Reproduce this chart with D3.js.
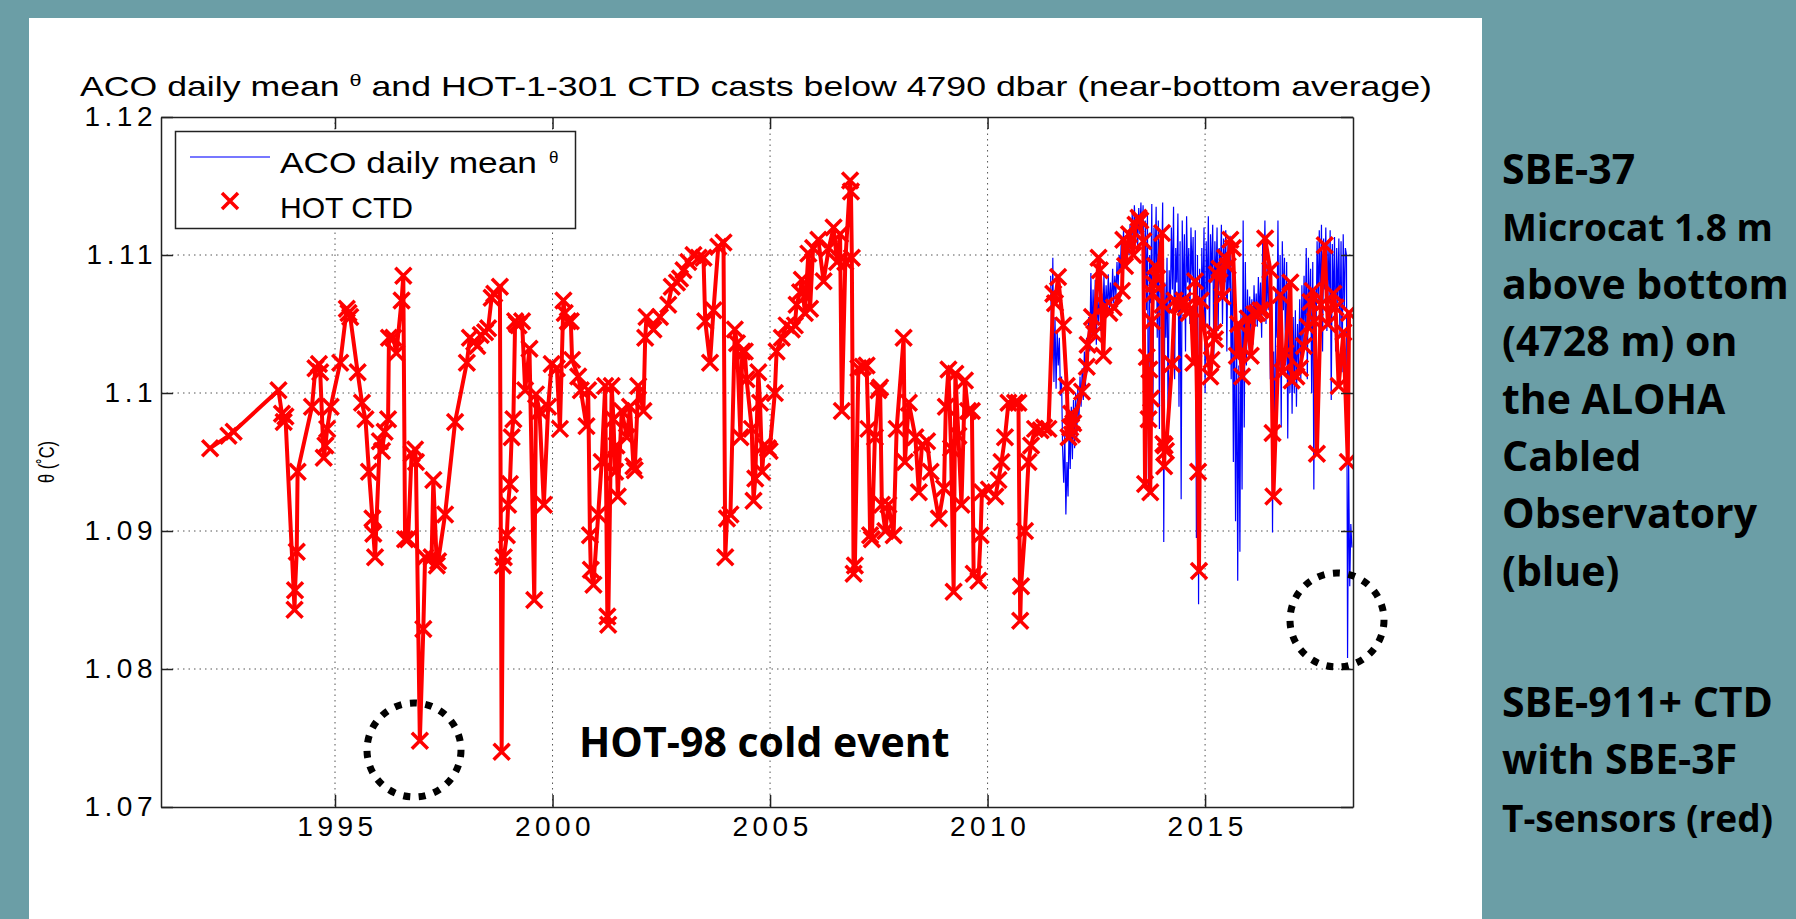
<!DOCTYPE html>
<html>

<head>
  <meta charset="utf-8">
  <title>ACO daily mean theta and HOT CTD casts</title>

  <style>
    body {
      margin: 0;
      background: #6b9ea6;
      overflow: hidden;
    }

    svg {
      display: block;
    }

    .grid line {
      stroke: #555;
      stroke-width: 1;
      stroke-dasharray: 1.5 4;
    }

    .axis path,
    .axis line {
      stroke: #222;
      stroke-width: 1.5;
    }

    .axis text {
      font-family: "Liberation Sans", sans-serif;
      font-size: 28px;
      letter-spacing: 4.5px;
      fill: #000;
    }

    .plot-text {
      font-family: "Liberation Sans", sans-serif;
      fill: #000;
    }

    .note {
      font-family: "Open Sans", sans-serif;
      font-weight: bold;
      fill: #000;
    }
  </style>
</head>

<body>
  <svg width="1796" height="919"></svg>

  <script src="https://cdn.jsdelivr.net/npm/d3@7"></script>

  <script>
    // HOT CTD casts: [decimal year, near-bottom theta]
    var hotCtd = [
      [1992.13, 1.0960], [1992.55, 1.0969], [1992.67, 1.0972], [1993.70, 1.1002], [1993.78, 1.0985],
      [1993.82, 1.0979], [1993.86, 1.0983], [1994.07, 1.0843], [1994.08, 1.0857], [1994.12, 1.0885],
      [1994.14, 1.0943], [1994.47, 1.0990], [1994.55, 1.1018], [1994.63, 1.1021], [1994.66, 1.1015],
      [1994.74, 1.0953], [1994.78, 1.0962], [1994.82, 1.0974], [1994.90, 1.0990], [1995.12, 1.1022],
      [1995.27, 1.1061], [1995.31, 1.1058], [1995.35, 1.1055], [1995.52, 1.1015], [1995.62, 1.0993],
      [1995.70, 1.0981], [1995.78, 1.0943], [1995.86, 1.0909], [1995.88, 1.0898], [1995.92, 1.0881],
      [1996.03, 1.0965], [1996.08, 1.0958], [1996.14, 1.0972], [1996.22, 1.0981], [1996.24, 1.1040],
      [1996.34, 1.1040], [1996.41, 1.1029], [1996.53, 1.1067], [1996.57, 1.1085], [1996.61, 1.0894],
      [1996.68, 1.0894], [1996.76, 1.0956], [1996.84, 1.0959], [1996.86, 1.0950], [1996.95, 1.0748],
      [1997.03, 1.0829], [1997.07, 1.0881], [1997.22, 1.0881], [1997.26, 1.0937], [1997.34, 1.0875],
      [1997.37, 1.0878], [1997.53, 1.0912], [1997.76, 1.0979], [1998.03, 1.1022], [1998.10, 1.1040],
      [1998.20, 1.1037], [1998.27, 1.1034], [1998.35, 1.1042], [1998.45, 1.1044], [1998.52, 1.1047],
      [1998.60, 1.1069], [1998.66, 1.1072], [1998.79, 1.1077], [1998.83, 1.0740], [1998.86, 1.0875],
      [1998.88, 1.0881], [1998.95, 1.0897], [1998.98, 1.0919], [1999.02, 1.0934], [1999.06, 1.0968],
      [1999.10, 1.0981], [1999.14, 1.1052], [1999.18, 1.1050], [1999.22, 1.1049], [1999.30, 1.1052],
      [1999.37, 1.1002], [1999.47, 1.1032], [1999.58, 1.0850], [1999.62, 1.0999], [1999.70, 1.0987],
      [1999.80, 1.0919], [1999.90, 1.0990], [1999.98, 1.1021], [2000.10, 1.1018], [2000.17, 1.0974],
      [2000.25, 1.1067], [2000.28, 1.1058], [2000.35, 1.1052], [2000.42, 1.1052], [2000.45, 1.1024],
      [2000.59, 1.1012], [2000.65, 1.1002], [2000.78, 1.0976], [2000.82, 1.1002], [2000.86, 1.0897],
      [2000.88, 1.0872], [2000.94, 1.0861], [2001.05, 1.0912], [2001.13, 1.0950], [2001.21, 1.1005],
      [2001.26, 1.0838], [2001.28, 1.0832], [2001.36, 1.1005], [2001.40, 1.0981], [2001.44, 1.0943],
      [2001.47, 1.0962], [2001.50, 1.0925], [2001.59, 1.0987], [2001.71, 1.0968], [2001.78, 1.0990],
      [2001.86, 1.0947], [2001.89, 1.0944], [2001.97, 1.1005], [2002.09, 1.0987], [2002.13, 1.1040],
      [2002.16, 1.1055], [2002.32, 1.1046], [2002.47, 1.1055], [2002.66, 1.1064], [2002.74, 1.1077],
      [2002.86, 1.1080], [2002.93, 1.1083], [2003.01, 1.1089], [2003.12, 1.1095], [2003.24, 1.1100],
      [2003.36, 1.1098], [2003.47, 1.1098], [2003.51, 1.1052], [2003.62, 1.1022], [2003.70, 1.1060],
      [2003.81, 1.1106], [2003.93, 1.1109], [2003.97, 1.0881], [2004.01, 1.0909], [2004.09, 1.0912],
      [2004.19, 1.1046], [2004.24, 1.1036], [2004.32, 1.0968], [2004.36, 1.1030], [2004.42, 1.1030],
      [2004.46, 1.1010], [2004.58, 1.0974], [2004.62, 1.0922], [2004.66, 1.0938], [2004.73, 1.1015],
      [2004.77, 1.0993], [2004.82, 1.0943], [2004.86, 1.0962], [2004.95, 1.0960], [2004.99, 1.0958],
      [2005.11, 1.1000], [2005.15, 1.1030], [2005.27, 1.1040], [2005.38, 1.1049], [2005.50, 1.1046],
      [2005.57, 1.1049], [2005.61, 1.1064], [2005.69, 1.1073], [2005.73, 1.1082], [2005.80, 1.1058],
      [2005.88, 1.1101], [2005.92, 1.1061], [2005.99, 1.1105], [2006.11, 1.1111], [2006.23, 1.1081],
      [2006.35, 1.1105], [2006.46, 1.1120], [2006.54, 1.1095], [2006.61, 1.1115], [2006.65, 1.0987],
      [2006.73, 1.1095], [2006.84, 1.1154], [2006.86, 1.1146], [2006.88, 1.1098], [2006.92, 1.0869],
      [2006.95, 1.0875], [2007.03, 1.1018], [2007.13, 1.1019], [2007.22, 1.1020], [2007.26, 1.0974],
      [2007.30, 1.0897], [2007.34, 1.0894], [2007.41, 1.0968], [2007.49, 1.1002], [2007.53, 1.1004],
      [2007.57, 1.0919], [2007.65, 1.0900], [2007.72, 1.0919], [2007.84, 1.0897], [2007.91, 1.0974],
      [2008.07, 1.1040], [2008.10, 1.0950], [2008.19, 1.0993], [2008.34, 1.0968], [2008.42, 1.0928],
      [2008.49, 1.0962], [2008.61, 1.0965], [2008.69, 1.0943], [2008.88, 1.0909], [2009.00, 1.0931],
      [2009.04, 1.0990], [2009.10, 1.1017], [2009.16, 1.0960], [2009.22, 1.0856], [2009.26, 1.1014],
      [2009.33, 1.0969], [2009.40, 1.0919], [2009.48, 1.1009], [2009.55, 1.0987], [2009.64, 1.0987],
      [2009.68, 1.0869], [2009.79, 1.0864], [2009.84, 1.0897], [2009.87, 1.0928], [2010.03, 1.0930],
      [2010.18, 1.0925], [2010.25, 1.0937], [2010.32, 1.0950], [2010.40, 1.0968], [2010.48, 1.0993],
      [2010.63, 1.0993], [2010.71, 1.0993], [2010.75, 1.0835], [2010.77, 1.0860], [2010.86, 1.0900],
      [2010.94, 1.0950], [2011.00, 1.0962], [2011.09, 1.0974], [2011.22, 1.0973], [2011.30, 1.0975],
      [2011.40, 1.0974], [2011.51, 1.1072], [2011.55, 1.1065], [2011.62, 1.1084], [2011.74, 1.1049],
      [2011.82, 1.1005], [2011.86, 1.0968], [2011.90, 1.0975], [2011.92, 1.0985], [2011.94, 1.0970],
      [2011.97, 1.0978], [2012.17, 1.1001], [2012.28, 1.1019], [2012.30, 1.1035], [2012.40, 1.1055],
      [2012.45, 1.1043], [2012.55, 1.1098], [2012.58, 1.1089], [2012.66, 1.1027], [2012.70, 1.1063],
      [2012.80, 1.1058], [2012.90, 1.1062], [2013.09, 1.1074], [2013.12, 1.1111], [2013.16, 1.1092],
      [2013.25, 1.1115], [2013.35, 1.1100], [2013.40, 1.1122], [2013.47, 1.1127], [2013.51, 1.1125],
      [2013.58, 1.1110], [2013.62, 1.0934], [2013.66, 1.1026], [2013.70, 1.0981], [2013.72, 1.1017],
      [2013.74, 1.0928], [2013.76, 1.0996], [2013.78, 1.1052], [2013.80, 1.1072], [2013.82, 1.1079],
      [2013.85, 1.1092], [2013.90, 1.1083], [2014.01, 1.1116], [2014.02, 1.1064], [2014.04, 1.0963],
      [2014.06, 1.0947], [2014.07, 1.0962], [2014.10, 1.0958], [2014.24, 1.1021], [2014.30, 1.1067],
      [2014.38, 1.1064], [2014.45, 1.1063], [2014.50, 1.1067], [2014.55, 1.1062], [2014.62, 1.1058],
      [2014.68, 1.1061], [2014.73, 1.1022], [2014.77, 1.1081], [2014.84, 1.0943], [2014.86, 1.0871],
      [2014.90, 1.1067], [2015.12, 1.1012], [2015.15, 1.1024], [2015.20, 1.1044], [2015.23, 1.1039],
      [2015.27, 1.1086], [2015.33, 1.1090], [2015.40, 1.1070], [2015.46, 1.1098], [2015.52, 1.1092],
      [2015.58, 1.1111], [2015.64, 1.1105], [2015.73, 1.1027], [2015.76, 1.1050], [2015.85, 1.1012],
      [2015.98, 1.1054], [2016.05, 1.1027], [2016.13, 1.1057], [2016.20, 1.1058], [2016.27, 1.1060],
      [2016.34, 1.1060], [2016.38, 1.1112], [2016.50, 1.1089], [2016.55, 1.0971], [2016.57, 1.0925],
      [2016.73, 1.1071], [2016.78, 1.1015], [2016.85, 1.1029], [2016.96, 1.1080], [2016.99, 1.1009],
      [2017.10, 1.1012], [2017.18, 1.1018], [2017.27, 1.1034], [2017.36, 1.1048], [2017.42, 1.1066],
      [2017.47, 1.1074], [2017.52, 1.1052], [2017.57, 1.0956], [2017.66, 1.1064], [2017.75, 1.1107],
      [2017.82, 1.1050], [2017.95, 1.1072], [2018.00, 1.1062], [2018.07, 1.1005], [2018.18, 1.1044],
      [2018.28, 1.0950], [2018.31, 1.1058]
    ];

    // ACO daily mean theta, sampled every acoStep years from acoStart
    var acoStart = 2011.45;
    var acoStep = 0.025;
    var acoTheta = [
      1.1085, 1.1030, 1.1098, 1.1008, 1.1055, 1.1003, 1.1045, 1.1020,
      1.1040, 1.0998, 1.1012, 1.0960, 1.0935, 1.0970, 1.0912, 1.0950,
      1.0925, 1.0980, 1.0945, 1.0990, 1.0952, 1.0995, 1.0960, 1.1000,
      1.0968, 1.1005, 1.0980, 1.1012, 1.0990, 1.1018, 1.0995, 1.1030,
      1.1005, 1.1040, 1.1015, 1.1055, 1.1030, 1.1087, 1.1040, 1.1075,
      1.1045, 1.1082, 1.1035, 1.1070, 1.1050, 1.1080, 1.1045, 1.1072,
      1.1052, 1.1085, 1.1055, 1.1078, 1.1058, 1.1086, 1.1060, 1.1080,
      1.1062, 1.1090, 1.1065, 1.1085, 1.1070, 1.1095, 1.1075, 1.1100,
      1.1088, 1.1112, 1.1092, 1.1118, 1.1095, 1.1110, 1.1090, 1.1115,
      1.1100, 1.1122, 1.1105, 1.1130, 1.1108, 1.1136, 1.1112, 1.1128,
      1.1105, 1.1134, 1.1115, 1.1138, 1.1110, 1.1136, 1.1060, 1.1125,
      1.1060, 1.1130, 1.0925, 1.1100, 1.1065, 1.1137, 1.0980, 1.1120,
      1.1090, 1.1135, 1.1040, 1.1125, 1.0974, 1.1110, 1.1085, 1.1138,
      1.0892, 1.1080, 1.1040, 1.1098, 1.0975, 1.1089, 1.1060, 1.1120,
      1.1075, 1.1135, 1.1010, 1.1105, 1.1080, 1.1130, 1.0990, 1.1110,
      1.0923, 1.1125, 1.1060, 1.1115, 1.1030, 1.1128, 1.1080, 1.1105,
      1.1050, 1.1120, 1.1085, 1.1113, 1.1020, 1.1118, 1.0895, 1.1100,
      1.0847, 1.1090, 1.0990, 1.1105, 1.1060, 1.1120, 1.1000, 1.1110,
      1.1070, 1.1128, 1.1040, 1.1115, 1.1080, 1.1122, 1.1025, 1.1110,
      1.1075, 1.1120, 1.1045, 1.1105, 1.1085, 1.1122, 1.1050, 1.1112,
      1.1080, 1.1118, 1.1030, 1.1108, 1.1075, 1.1114, 1.1010, 1.1095,
      1.0950, 1.1070, 1.0907, 1.1040, 1.0864, 1.1020, 1.0885, 1.1060,
      1.0930, 1.1125, 1.0975, 1.1095, 1.1020, 1.1075, 1.1040, 1.1070,
      1.1045, 1.1068, 1.1035, 1.1078, 1.1050, 1.1072, 1.1048, 1.1084,
      1.1055, 1.1080, 1.1040, 1.1112, 1.1070, 1.1125, 1.1050, 1.1095,
      1.1060, 1.1085, 1.1010, 1.1065, 1.0899, 1.1030, 1.0960, 1.1075,
      1.1040, 1.1125, 1.1020, 1.1100, 1.0975, 1.1110, 1.1060, 1.1098,
      1.1020, 1.1095, 1.0967, 1.1060, 1.1000, 1.1062, 1.0985, 1.1055,
      1.1000, 1.1060, 1.0990, 1.1050, 1.1020, 1.1068, 1.1010, 1.1078,
      1.1030, 1.1085, 1.1040, 1.1105, 1.1010, 1.1098, 1.1050, 1.1090,
      1.1000, 1.1095, 1.0930, 1.1075, 1.1040, 1.1110, 1.1065, 1.1118,
      1.1060, 1.1122, 1.1030, 1.1112, 1.1075, 1.1120, 1.1045, 1.1110,
      1.1070, 1.1118, 1.0995, 1.1108, 1.1060, 1.1113, 1.1030, 1.1105,
      1.1065, 1.1112, 1.1040, 1.1110, 1.1015, 1.1115, 1.1060, 1.1105,
      1.1100, 1.0808, 1.0950, 1.0860, 1.0905, 1.0888
    ];

    // axis ticks
    var xTicks = [1995, 2000, 2005, 2010, 2015];
    var yTicks = [1.07, 1.08, 1.09, 1.1, 1.11, 1.12];
    var yTickLabels = ['1.07', '1.08', '1.09', '1.1', '1.11', '1.12'];

    // slide text to the right of the chart
    var sideLinesTop = ['SBE-37', 'Microcat 1.8 m', 'above bottom', '(4728 m) on', 'the ALOHA', 'Cabled', 'Observatory', '(blue)'];
    var sideLinesBottom = ['SBE-911+ CTD', 'with SBE-3F', 'T-sensors (red)'];

    var svg = d3.select('svg');

    // slide background and white chart panel
    svg.append('rect')
      .attr('width', 1796).attr('height', 919)
      .attr('fill', '#6b9ea6');
    svg.append('rect')
      .attr('x', 29).attr('y', 18)
      .attr('width', 1453).attr('height', 901)
      .attr('fill', '#ffffff');

    var x = d3.scaleLinear().domain([1991, 2018.4]).range([161, 1353]);
    var y = d3.scaleLinear().domain([1.07, 1.12]).range([807, 117]);

    // dotted grid
    var grid = svg.append('g').attr('class', 'grid');
    grid.selectAll('.gx').data(xTicks).enter().append('line')
      .attr('x1', function(d) { return x(d); })
      .attr('x2', function(d) { return x(d); })
      .attr('y1', y(1.12)).attr('y2', y(1.07));
    grid.selectAll('.gy').data(yTicks.slice(1, -1)).enter().append('line')
      .attr('x1', x(1991)).attr('x2', x(2018.4))
      .attr('y1', function(d) { return y(d); })
      .attr('y2', function(d) { return y(d); });

    // clip the data to the axes box
    svg.append('clipPath').attr('id', 'plot-clip')
      .append('rect')
      .attr('x', x(1991)).attr('y', y(1.12))
      .attr('width', x(2018.4) - x(1991))
      .attr('height', y(1.07) - y(1.12));

    var plot = svg.append('g').attr('clip-path', 'url(#plot-clip)');

    // ACO daily mean (blue)
    var acoLine = d3.line()
      .x(function(d, i) { return x(acoStart + i * acoStep); })
      .y(function(d) { return y(d); });

    plot.append('path')
      .attr('d', acoLine(acoTheta))
      .attr('fill', 'none')
      .attr('stroke', '#0000ff')
      .attr('stroke-width', 1.2);

    // HOT CTD line + x markers (red)
    var ctdLine = d3.line()
      .x(function(d) { return x(d[0]); })
      .y(function(d) { return y(d[1]); });

    plot.append('path')
      .attr('d', ctdLine(hotCtd))
      .attr('fill', 'none')
      .attr('stroke', '#ff0000')
      .attr('stroke-width', 4)
      .attr('stroke-linejoin', 'round');

    var xMark = 'M-8,-8L8,8M-8,8L8,-8';
    plot.selectAll('.ctd-mark').data(hotCtd).enter().append('path')
      .attr('class', 'ctd-mark')
      .attr('transform', function(d) { return 'translate(' + x(d[0]) + ',' + y(d[1]) + ')'; })
      .attr('d', xMark)
      .attr('stroke', '#ff0000')
      .attr('stroke-width', 3.5);

    // axes: ticks point inward on all four sides (box on)
    var fmtY = function(d) { return yTickLabels[yTicks.indexOf(d)]; };

    svg.append('g').attr('class', 'axis')
      .attr('transform', 'translate(0,' + y(1.07) + ')')
      .call(d3.axisBottom(x).tickValues(xTicks).tickSize(-12).tickSizeOuter(0).tickPadding(9).tickFormat(d3.format('d')));
    svg.append('g').attr('class', 'axis')
      .attr('transform', 'translate(0,' + y(1.12) + ')')
      .call(d3.axisTop(x).tickValues(xTicks).tickSize(-12).tickSizeOuter(0).tickFormat(''));
    svg.append('g').attr('class', 'axis')
      .attr('transform', 'translate(' + x(1991) + ',0)')
      .call(d3.axisLeft(y).tickValues(yTicks).tickSize(-12).tickSizeOuter(0).tickPadding(6).tickFormat(fmtY));
    svg.append('g').attr('class', 'axis')
      .attr('transform', 'translate(' + x(2018.4) + ',0)')
      .call(d3.axisRight(y).tickValues(yTicks).tickSize(-12).tickSizeOuter(0).tickFormat(''));

    // undo the trailing letter-spacing on the tick labels
    svg.selectAll('.axis text').attr('dx', '2px');

    // title
    var title = svg.append('text')
      .attr('class', 'plot-text')
      .attr('x', 80).attr('y', 96)
      .attr('font-size', 28)
      .attr('textLength', 1352)
      .attr('lengthAdjust', 'spacingAndGlyphs');
    title.append('tspan').text('ACO daily mean ');
    title.append('tspan').attr('font-size', 17).attr('dy', -10).text('θ');
    title.append('tspan').attr('dy', 10).text(' and HOT-1-301 CTD casts below 4790 dbar (near-bottom average)');

    // y label
    svg.append('text')
      .attr('class', 'plot-text')
      .attr('transform', 'translate(54,462) rotate(-90)')
      .attr('text-anchor', 'middle')
      .attr('font-size', 22)
      .attr('textLength', 42)
      .attr('lengthAdjust', 'spacingAndGlyphs')
      .text('θ (˚C)');

    // legend
    var legend = svg.append('g');
    legend.append('rect')
      .attr('x', 175.5).attr('y', 131.5)
      .attr('width', 400).attr('height', 97)
      .attr('fill', '#fff').attr('stroke', '#222').attr('stroke-width', 1.5);
    legend.append('line')
      .attr('x1', 190).attr('x2', 270).attr('y1', 157).attr('y2', 157)
      .attr('stroke', '#4a4aff').attr('stroke-width', 1.5);
    legend.append('path')
      .attr('transform', 'translate(230,201)')
      .attr('d', xMark)
      .attr('stroke', '#ff0000').attr('stroke-width', 3.5);
    legend.append('text')
      .attr('class', 'plot-text')
      .attr('x', 280).attr('y', 173).attr('font-size', 30)
      .attr('textLength', 257).attr('lengthAdjust', 'spacingAndGlyphs')
      .text('ACO daily mean');
    legend.append('text')
      .attr('class', 'plot-text')
      .attr('x', 549).attr('y', 163).attr('font-size', 17)
      .text('θ');
    legend.append('text')
      .attr('class', 'plot-text')
      .attr('x', 280).attr('y', 218).attr('font-size', 30)
      .attr('textLength', 133).attr('lengthAdjust', 'spacingAndGlyphs')
      .text('HOT CTD');

    // annotations: cold event label and dotted circles
    svg.append('text')
      .attr('class', 'note')
      .attr('x', 579).attr('y', 757)
      .attr('font-size', 41)
      .text('HOT-98 cold event');

    svg.selectAll('.ring').data([[414, 750], [1337, 620]]).enter().append('circle')
      .attr('cx', function(d) { return d[0]; })
      .attr('cy', function(d) { return d[1]; })
      .attr('r', 47)
      .attr('fill', 'none')
      .attr('stroke', '#000')
      .attr('stroke-width', 7)
      .attr('stroke-dasharray', '7 8.5');

    // right-hand slide text; the two longest lines get a smaller size so they stay on the page
    var sideText = function(lines, top) {
      svg.selectAll(null).data(lines).enter().append('text')
        .attr('class', 'note')
        .attr('x', 1502)
        .attr('y', function(d, i) { return top + i * 57.4; })
        .attr('font-size', function(d) { return d.length > 13 ? 37 : 41; })
        .text(function(d) { return d; });
    };
    sideText(sideLinesTop, 184);
    sideText(sideLinesBottom, 717);
  </script>
</body>

</html>
